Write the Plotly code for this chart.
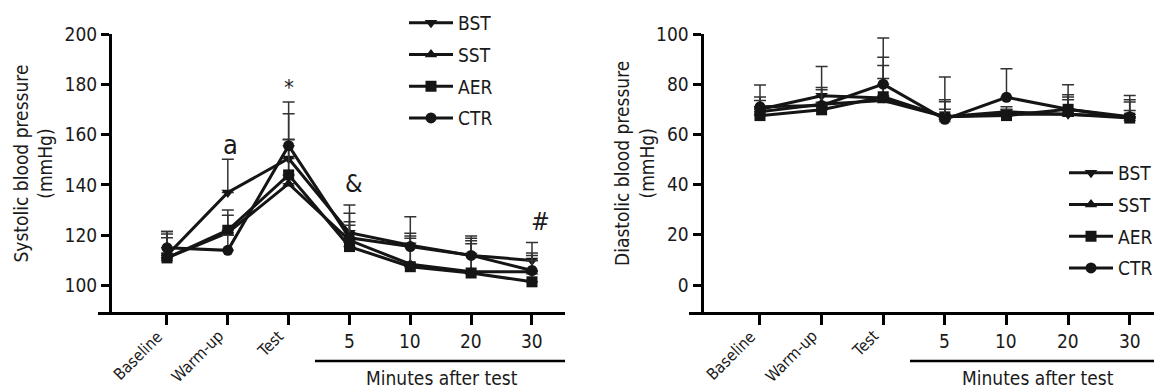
import plotly.graph_objects as go

# ---------------- data ----------------
categories = ["Baseline", "Warm-up", "Test", "5", "10", "20", "30"]
series_names = ["BST", "SST", "AER", "CTR"]

# Systolic blood pressure (mmHg): means and upper SD
sys_bst = [112, 137, 150.5, 121, 116, 112, 110]
sys_sst = [111, 121, 140.5, 118, 108.5, 105.5, 105.5]
sys_aer = [111, 122, 144, 115.5, 107.5, 105, 101.5]
sys_ctr = [115, 114, 155.6, 119, 115.5, 112, 106]
sys_bst_sd = [9.5, 13.2, 17.8, 11, 11.4, 7.7, 7.1]
sys_sst_sd = [8, 7, 17.7, 7.4, 10.3, 11.1, 6.5]
sys_aer_sd = [9.5, 8, 14, 8.5, 12.2, 12.8, 8.5]
sys_ctr_sd = [6.5, 6, 17.4, 9.8, 5.3, 6.8, 7]

# Diastolic blood pressure (mmHg): means and upper SD
dia_bst = [70, 75.4, 74.5, 67, 69, 68, 67]
dia_sst = [69, 72, 73.5, 67, 68, 68, 66.5]
dia_aer = [67.5, 69.8, 75, 67, 67.5, 70, 66.5]
dia_ctr = [71, 71.5, 80, 66, 74.8, 70, 67]
dia_bst_sd = [4.9, 3.3, 16.2, 6.8, 2, 7.8, 6.8]
dia_sst_sd = [4.5, 5.8, 8.8, 6, 2, 6.9, 6.4]
dia_aer_sd = [3, 3, 12.5, 3, 2, 3.8, 3]
dia_ctr_sd = [8.7, 15.6, 18.4, 16.9, 11.4, 9.8, 8.5]

sys_ticks = [100, 120, 140, 160, 180, 200]
dia_ticks = [0, 20, 40, 60, 80, 100]

# significance labels on systolic panel: (text, category position, value)
sig_labels = [("a", 1.04, 155.9), ("*", 2.0, 178.7), ("&", 3.07, 140.4), ("#", 6.14, 125.3)]

# ---------------- style ----------------
FONT = "Liberation Sans Narrow, Arial Narrow, DejaVu Sans Condensed, sans-serif"
symbols = {"BST": "triangle-down", "SST": "triangle-up", "AER": "square", "CTR": "circle"}
W, H = 1154, 388

xpos = list(range(len(categories)))
n_rot = 3  # first three category labels are rotated
sys_data = {"BST": (sys_bst, sys_bst_sd), "SST": (sys_sst, sys_sst_sd),
            "AER": (sys_aer, sys_aer_sd), "CTR": (sys_ctr, sys_ctr_sd)}
dia_data = {"BST": (dia_bst, dia_bst_sd), "SST": (dia_sst, dia_sst_sd),
            "AER": (dia_aer, dia_aer_sd), "CTR": (dia_ctr, dia_ctr_sd)}

fig = go.Figure()

def add_series(data, xa, ya, legend, prefix):
    for name in series_names:
        vals, sd = data[name]
        fig.add_trace(go.Scatter(
            x=xpos, y=vals, name=name, xaxis=xa, yaxis=ya, legend=legend,
            legendgroup=prefix + name,
            mode="lines+markers",
            line=dict(color="#151515", width=3),
            marker=dict(symbol=symbols[name], size=11, color="#151515"),
            error_y=dict(type="data", array=sd, arrayminus=[0] * len(sd), symmetric=False,
                         color="#333333", thickness=1.5, width=6),
        ))

add_series(sys_data, "x", "y", "legend", "L")
add_series(dia_data, "x2", "y2", "legend2", "R")

ydom = [1 - 312 / H, 1 - 34 / H]
lx_dom = [98 / W, 565 / W]
rx_dom = [689 / W, 1.0]
lx_rng = [-1.134, 6.543]
rx_rng = [-1.152, 6.394]

axis_font = dict(family=FONT, size=19, color="#1a1a1a")
rot_font = dict(family=FONT, size=16, color="#1a1a1a")

def xaxis_main(dom, rng, anchor):
    return dict(domain=dom, range=rng, anchor=anchor, showline=True, linewidth=3,
                linecolor="black", ticks="outside", ticklen=10, tickwidth=2.5,
                tickcolor="black", tickvals=xpos, ticktext=[""] * len(categories),
                showgrid=False, zeroline=False, automargin=False)

def yaxis_def(rng, pos, tv):
    return dict(domain=ydom, range=rng, anchor="free", position=pos, showline=True,
                linewidth=3, linecolor="black", ticks="outside", ticklen=8,
                tickwidth=2.5, tickcolor="black", tickvals=tv, tickfont=axis_font,
                showgrid=False, zeroline=False, automargin=False)

legend_common = dict(font=dict(family=FONT, size=19, color="#1a1a1a"),
                     bgcolor="rgba(0,0,0,0)", tracegroupgap=4, yanchor="top",
                     xanchor="left", itemclick=False, itemwidth=44)

fig.update_layout(
    width=W, height=H, margin=dict(l=0, r=0, t=0, b=0, autoexpand=False),
    paper_bgcolor="white", plot_bgcolor="white",
    font=dict(family=FONT, color="#1a1a1a"),
    xaxis=xaxis_main(lx_dom, lx_rng, "y"),
    xaxis2=xaxis_main(rx_dom, rx_rng, "y2"),
    yaxis=yaxis_def([89.5, 200], 110 / W, sys_ticks),
    yaxis2=yaxis_def([-10.75, 100], 701.5 / W, dia_ticks),
    legend=dict(x=404 / W, y=1 - 4 / H, **legend_common),
    legend2=dict(x=1064 / W, y=1 - 154 / H, **legend_common),
    showlegend=True,
)

# category labels: rotated phase labels and horizontal minute labels
for xa in ["x", "x2"]:
    for i in range(len(categories)):
        if i < n_rot:
            fig.add_annotation(xref=xa, yref="paper", x=xpos[i], xshift=2, y=1 - 324 / H,
                               text=categories[i], textangle=-45, showarrow=False,
                               xanchor="right", yanchor="top", font=rot_font)
        else:
            fig.add_annotation(xref=xa, yref="paper", x=xpos[i], y=1 - 341 / H,
                               text=categories[i], showarrow=False, xanchor="center",
                               yanchor="middle", font=axis_font)

# axis titles
for xc, txt in [(32.5, "Systolic blood pressure<br>(mmHg)"), (634, "Diastolic blood pressure<br>(mmHg)")]:
    fig.add_annotation(xref="paper", yref="paper", x=xc / W, y=1 - 164 / H, text=txt,
                       textangle=-90, showarrow=False, xanchor="center", yanchor="middle",
                       font=dict(family=FONT, size=19, color="#1a1a1a"))

# "Minutes after test" labels and underline
for x0, x1, xc in [(315, 565, 442), (910, 1154, 1038)]:
    fig.add_shape(type="line", xref="paper", yref="paper", x0=x0 / W, x1=x1 / W,
                  y0=1 - 361 / H, y1=1 - 361 / H, line=dict(color="black", width=2.5))
    fig.add_annotation(xref="paper", yref="paper", x=xc / W, y=1 - 378 / H,
                       text="Minutes after test", showarrow=False, xanchor="center",
                       yanchor="middle", font=dict(family=FONT, size=19, color="#1a1a1a"))

sig_sizes = {"a": 27, "*": 22, "&": 25, "#": 25}
for txt, xv, yv in sig_labels:
    fig.add_annotation(xref="x", yref="y", x=xv, y=yv, text=txt, showarrow=False,
                       xanchor="center", yanchor="middle",
                       font=dict(family=FONT, size=sig_sizes[txt], color="#1a1a1a"))

fig.write_html("out.html", config={"displayModeBar": False},
               post_script="document.body.style.margin='0';document.body.style.overflow='hidden';")
